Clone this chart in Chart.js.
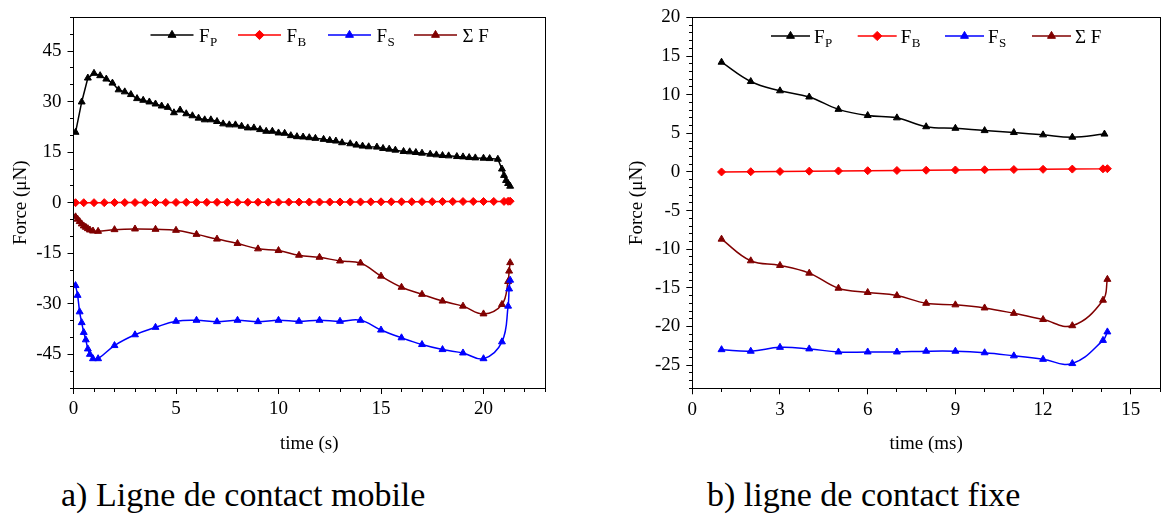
<!DOCTYPE html>
<html>
<head>
<meta charset="utf-8">
<script src="https://cdn.jsdelivr.net/npm/chart.js@4.4.1/dist/chart.umd.min.js"></script>
<style>
  html, body { margin: 0; padding: 0; background: #fff; }
  body { width: 1165px; height: 520px; position: relative; overflow: hidden;
         font-family: "Liberation Serif", "Times New Roman", serif; }
  #chartA { position: absolute; left: 0; top: 0; }
  #chartB { position: absolute; left: 580px; top: 0; }
  .cap { position: absolute; font-size: 34px; line-height: 1; white-space: nowrap; color: #000; }
</style>
</head>
<body>
<canvas id="chartA" width="560" height="470"></canvas>
<canvas id="chartB" width="585" height="470"></canvas>
<div class="cap" style="left:61px; top:478px;">a) Ligne de contact mobile</div>
<div class="cap" style="left:707px; top:478px;">b) ligne de contact fixe</div>

<script>
// ---------- (a) moving contact line, time in s, force in µN ----------
const timeA_P = [0.1, 0.4, 0.7, 1.0, 1.3, 1.6, 1.9, 2.2, 2.5, 2.8, 3.1, 3.4, 3.7, 4.0, 4.3, 4.6, 4.9, 5.2, 5.5, 5.8,
  6.1, 6.4, 6.7, 7.0, 7.3, 7.6, 7.9, 8.2, 8.5, 8.8, 9.1, 9.4, 9.7, 10.0, 10.3, 10.6, 10.9, 11.2, 11.5,
  11.8, 12.2, 12.5, 12.8, 13.1, 13.5, 13.8, 14.1, 14.4, 14.8, 15.1, 15.4, 15.7, 16.1, 16.4, 16.7, 17.0,
  17.4, 17.7, 18.0, 18.3, 18.7, 19.0, 19.3, 19.6, 20.0, 20.3, 20.7, 20.9, 21.0, 21.1, 21.2, 21.3];
const forceA_P = [20.9, 29.9, 37.0, 38.4, 37.7, 36.7, 35.5, 33.5, 32.9, 32.1, 30.9, 30.4, 29.9, 29.3, 28.7, 28.3, 26.7, 27.5, 26.4, 25.8,
  25.1, 24.6, 24.6, 24.1, 23.4, 23.1, 23.1, 22.7, 22.2, 22.2, 21.7, 21.2, 21.2, 20.7, 20.6, 19.9, 19.6, 19.5, 19.3,
  19.1, 18.8, 18.5, 18.3, 17.8, 17.5, 17.1, 16.8, 16.6, 16.5, 16.1, 15.9, 15.6, 15.2, 15.1, 14.9, 14.7,
  14.4, 14.2, 14.0, 13.9, 13.7, 13.6, 13.4, 13.3, 13.2, 13.1, 12.9, 10.0, 8.1, 6.6, 5.7, 4.9];

const timeA_B = [0.1, 0.5, 1.0, 1.5, 2.0, 2.5, 3.0, 3.5, 4.0, 4.5, 5.0, 5.5, 6.0, 6.5, 7.0, 7.5, 8.0, 8.5, 9.0, 9.5,
  10.0, 10.5, 11.0, 11.5, 12.0, 12.5, 13.0, 13.5, 14.0, 14.5, 15.0, 15.5, 16.0, 16.5, 17.0, 17.5, 18.0, 18.5,
  19.0, 19.5, 20.0, 20.5, 21.0, 21.2, 21.3];
const forceA_B = [0.0, 0.0, 0.01, 0.02, 0.03, 0.04, 0.05, 0.06, 0.07, 0.08, 0.09, 0.1, 0.1, 0.11, 0.12, 0.13, 0.13, 0.14, 0.15, 0.16,
  0.17, 0.18, 0.18, 0.19, 0.2, 0.21, 0.22, 0.23, 0.24, 0.25, 0.26, 0.27, 0.28, 0.29, 0.3, 0.31, 0.32, 0.33,
  0.34, 0.35, 0.36, 0.37, 0.38, 0.42, 0.45];

const timeA_S = [0.1, 0.2, 0.3, 0.4, 0.5, 0.6, 0.7, 0.8, 0.95, 1.2, 2, 3, 4, 5, 6, 7, 8, 9, 10, 11, 12, 13, 14, 15, 16,
  17, 18, 19, 20, 20.9, 21.2, 21.25, 21.3];
const forceA_S = [-24.6, -27.5, -32.4, -35.6, -38.5, -40.7, -43.4, -45.0, -46.3, -46.3, -42.4, -39.2, -37.0, -35.2, -34.9,
  -35.3, -34.9, -35.3, -34.9, -35.2, -34.9, -35.2, -34.9, -37.8, -40.1, -42.1, -43.6, -44.6, -46.3, -41.3, -30.7, -25.6, -23.0];
const forceA_Sum = [-4.2, -4.9, -5.6, -6.3, -6.9, -7.3, -7.7, -8.1, -8.4, -8.5, -8.0, -7.8, -7.9, -8.2, -9.4,
  -10.8, -12.1, -13.7, -14.2, -15.6, -16.2, -17.3, -17.9, -21.8, -25.1, -27.2, -29.2, -30.7, -33.0, -30.2, -23.4, -20.3, -17.8];

const ticksA_x = [0, 5, 10, 15, 20];
const ticksA_y = [-45, -30, -15, 0, 15, 30, 45];
const minorA_x = [1, 2, 3, 4, 6, 7, 8, 9, 11, 12, 13, 14, 16, 17, 18, 19, 21, 22, 23];
const minorA_y = [-55, -50, -40, -35, -25, -20, -10, -5, 5, 10, 20, 25, 35, 40, 50, 55];

// ---------- (b) fixed contact line, time in ms, force in µN ----------
const timeB_P = [1, 2, 3, 4, 5, 6, 7, 8, 9, 10, 11, 12, 13, 14.1];
const forceB_P = [14.2, 11.7, 10.5, 9.7, 8.1, 7.3, 7.0, 5.85, 5.65, 5.35, 5.1, 4.8, 4.5, 4.9];
const timeB_B = [1, 2, 3, 4, 5, 6, 7, 8, 9, 10, 11, 12, 13, 14.05, 14.2];
const forceB_B = [0.0, 0.03, 0.06, 0.1, 0.13, 0.16, 0.19, 0.22, 0.25, 0.28, 0.31, 0.34, 0.37, 0.4, 0.42];
const timeB_S = [1, 2, 3, 4, 5, 6, 7, 8, 9, 10, 11, 12, 13, 14.05, 14.2];
const forceB_S = [-23.0, -23.2, -22.7, -22.9, -23.3, -23.3, -23.3, -23.2, -23.2, -23.4, -23.8, -24.25, -24.8, -21.8, -20.7];
const forceB_Sum = [-8.7, -11.5, -12.1, -13.1, -15.05, -15.6, -16.0, -17.0, -17.2, -17.6, -18.3, -19.1, -19.9, -16.6, -13.9];

const ticksB_x = [0, 3, 6, 9, 12, 15];
const ticksB_y = [-25, -20, -15, -10, -5, 0, 5, 10, 15, 20];
const minorB_x = [1, 2, 4, 5, 7, 8, 10, 11, 13, 14, 16];
const minorB_y = [-28, -27, -26, -24, -23, -22, -21, -19, -18, -17, -16, -14, -13, -12, -11, -9, -8, -7, -6,
  -4, -3, -2, -1, 1, 2, 3, 4, 6, 7, 8, 9, 11, 12, 13, 14, 16, 17, 18, 19];

// legend text: main part + subscript
const legendNames = [['F', 'P'], ['F', 'B'], ['F', 'S'], ['\u03A3 F', '']];

const SERIF = '"Liberation Serif", "Times New Roman", serif';
const COLORS = ['#000000', '#ff0000', '#0000ff', '#800000'];
const STYLES = ['triangle', 'rectRot', 'triangle', 'triangle'];

const crisp = v => Math.round(v - 0.5) + 0.5;

function marker(ctx, style, x, y, r, color) {
  ctx.save();
  ctx.fillStyle = color; ctx.strokeStyle = color; ctx.lineWidth = 1;
  ctx.beginPath();
  if (style === 'triangle') {
    const w = r * Math.sin(Math.PI / 3);
    ctx.moveTo(x, y - r); ctx.lineTo(x + w, y + r / 2); ctx.lineTo(x - w, y + r / 2);
  } else {
    ctx.moveTo(x - r, y); ctx.lineTo(x, y - r); ctx.lineTo(x + r, y); ctx.lineTo(x, y + r);
  }
  ctx.closePath(); ctx.fill(); ctx.stroke();
  ctx.restore();
}

// frame, minor ticks and the in-plot legend
const framePlugin = {
  id: 'frame',
  afterDraw(chart, args, o) {
    const { ctx, chartArea: a, scales: { x, y } } = chart;
    ctx.save();
    ctx.strokeStyle = '#000';
    ctx.lineWidth = 1;
    const L = crisp(a.left), R = crisp(a.right), T = crisp(a.top), B = crisp(a.bottom);
    ctx.strokeRect(L, T, R - L, B - T);
    ctx.beginPath();
    o.minorX.forEach(v => { const p = crisp(x.getPixelForValue(v)); ctx.moveTo(p, B); ctx.lineTo(p, B + 3.5); });
    o.minorY.forEach(v => { const p = crisp(y.getPixelForValue(v)); ctx.moveTo(L, p); ctx.lineTo(L - 3.5, p); });
    ctx.stroke();

    chart.data.datasets.forEach((ds, i) => {
      const x0 = o.legendX[i], ly = o.legendY;
      ctx.strokeStyle = ds.borderColor; ctx.lineWidth = 1.5;
      ctx.beginPath(); ctx.moveTo(x0, ly); ctx.lineTo(x0 + o.lineLen, ly); ctx.stroke();
      marker(ctx, ds.pointStyle, x0 + o.lineLen / 2, ly, 4.6, ds.borderColor);
      const [main, sub] = legendNames[i];
      ctx.fillStyle = '#000';
      ctx.textBaseline = 'alphabetic'; ctx.textAlign = 'left';
      ctx.font = '19px ' + SERIF;
      const tx = x0 + o.lineLen + o.gap;
      ctx.fillText(main, tx, ly + 6.5);
      if (sub) {
        const w = ctx.measureText(main).width;
        ctx.font = '13px ' + SERIF;
        ctx.fillText(sub, tx + w + 0.5, ly + 11);
      }
    });
    ctx.restore();
  }
};

function buildChart(id, cfg) {
  const series = [
    [cfg.tP, cfg.vP, cfg.tensionP],
    [cfg.tB, cfg.vB, 0],
    [cfg.tS, cfg.vS, 0.4],
    [cfg.tS, cfg.vSum, 0.4]
  ];
  const tickFont = { family: SERIF, size: 19 };
  return new Chart(document.getElementById(id), {
    type: 'scatter',
    data: {
      datasets: series.map(([t, v, tension], i) => ({
        data: t.map((tt, k) => ({ x: tt, y: v[k] })),
        showLine: true,
        borderColor: COLORS[i],
        backgroundColor: COLORS[i],
        pointBackgroundColor: COLORS[i],
        pointBorderColor: COLORS[i],
        pointStyle: STYLES[i],
        pointRadius: 4,
        pointHoverRadius: 4,
        pointBorderWidth: 1,
        borderWidth: 1.5,
        tension: tension
      }))
    },
    options: {
      responsive: false,
      animation: false,
      devicePixelRatio: 1,
      events: [],
      layout: { padding: cfg.pad },
      plugins: {
        legend: { display: false },
        tooltip: { enabled: false },
        frame: cfg.frame
      },
      scales: {
        x: {
          type: 'linear', min: cfg.xMin, max: cfg.xMax,
          afterBuildTicks: s => { s.ticks = cfg.ticksX.map(v => ({ value: v })); },
          afterFit: s => { s.height = cfg.xHeight; },
          grid: { display: true, drawOnChartArea: false, drawTicks: true, tickLength: 6, color: '#000', lineWidth: 1 },
          border: { display: false },
          ticks: { font: tickFont, color: '#000', padding: 4, autoSkip: false, maxRotation: 0, callback: v => String(v) },
          title: { display: true, text: cfg.xTitle, font: { family: SERIF, size: 19 }, color: '#000',
                   padding: { top: 0, bottom: 14.6 } }
        },
        y: {
          type: 'linear', min: cfg.yMin, max: cfg.yMax,
          afterBuildTicks: s => { s.ticks = cfg.ticksY.map(v => ({ value: v })); },
          afterFit: s => { s.width = cfg.yWidth; },
          grid: { display: true, drawOnChartArea: false, drawTicks: true, tickLength: 6, color: '#000', lineWidth: 1 },
          border: { display: false },
          ticks: { font: tickFont, color: '#000', padding: 6, autoSkip: false, callback: v => String(v) },
          title: { display: true, text: 'Force (\u03BCN)', font: { family: SERIF, size: 19 }, color: '#000',
                   padding: { top: cfg.yTitlePad, bottom: 0 } }
        }
      }
    },
    plugins: [framePlugin]
  });
}

buildChart('chartA', {
  tP: timeA_P, vP: forceA_P, tensionP: 0,
  tB: timeA_B, vB: forceA_B,
  tS: timeA_S, vS: forceA_S, vSum: forceA_Sum,
  xMin: 0, xMax: 23, yMin: -55, yMax: 55,
  ticksX: ticksA_x, ticksY: ticksA_y,
  xTitle: 'time (s)',
  pad: { left: 0, right: 15, top: 10, bottom: 0 },
  xHeight: 82, yWidth: 73.5, yTitlePad: 10,
  frame: { minorX: minorA_x, minorY: minorA_y, legendX: [150.5, 238, 328, 414], legendY: 35, lineLen: 43, gap: 5.5 }
});

buildChart('chartB', {
  tP: timeB_P, vP: forceB_P, tensionP: 0.4,
  tB: timeB_B, vB: forceB_B,
  tS: timeB_S, vS: forceB_S, vSum: forceB_Sum,
  xMin: 0, xMax: 16, yMin: -28, yMax: 20,
  ticksX: ticksB_x, ticksY: ticksB_y,
  xTitle: 'time (ms)',
  pad: { left: 0, right: 2, top: 10.7, bottom: 0 },
  xHeight: 81.7, yWidth: 112.3, yTitlePad: 45.6,
  frame: { minorX: minorB_x, minorY: minorB_y, legendX: [191, 277.7, 365, 452], legendY: 36, lineLen: 39, gap: 4 }
});
</script>
</body>
</html>
